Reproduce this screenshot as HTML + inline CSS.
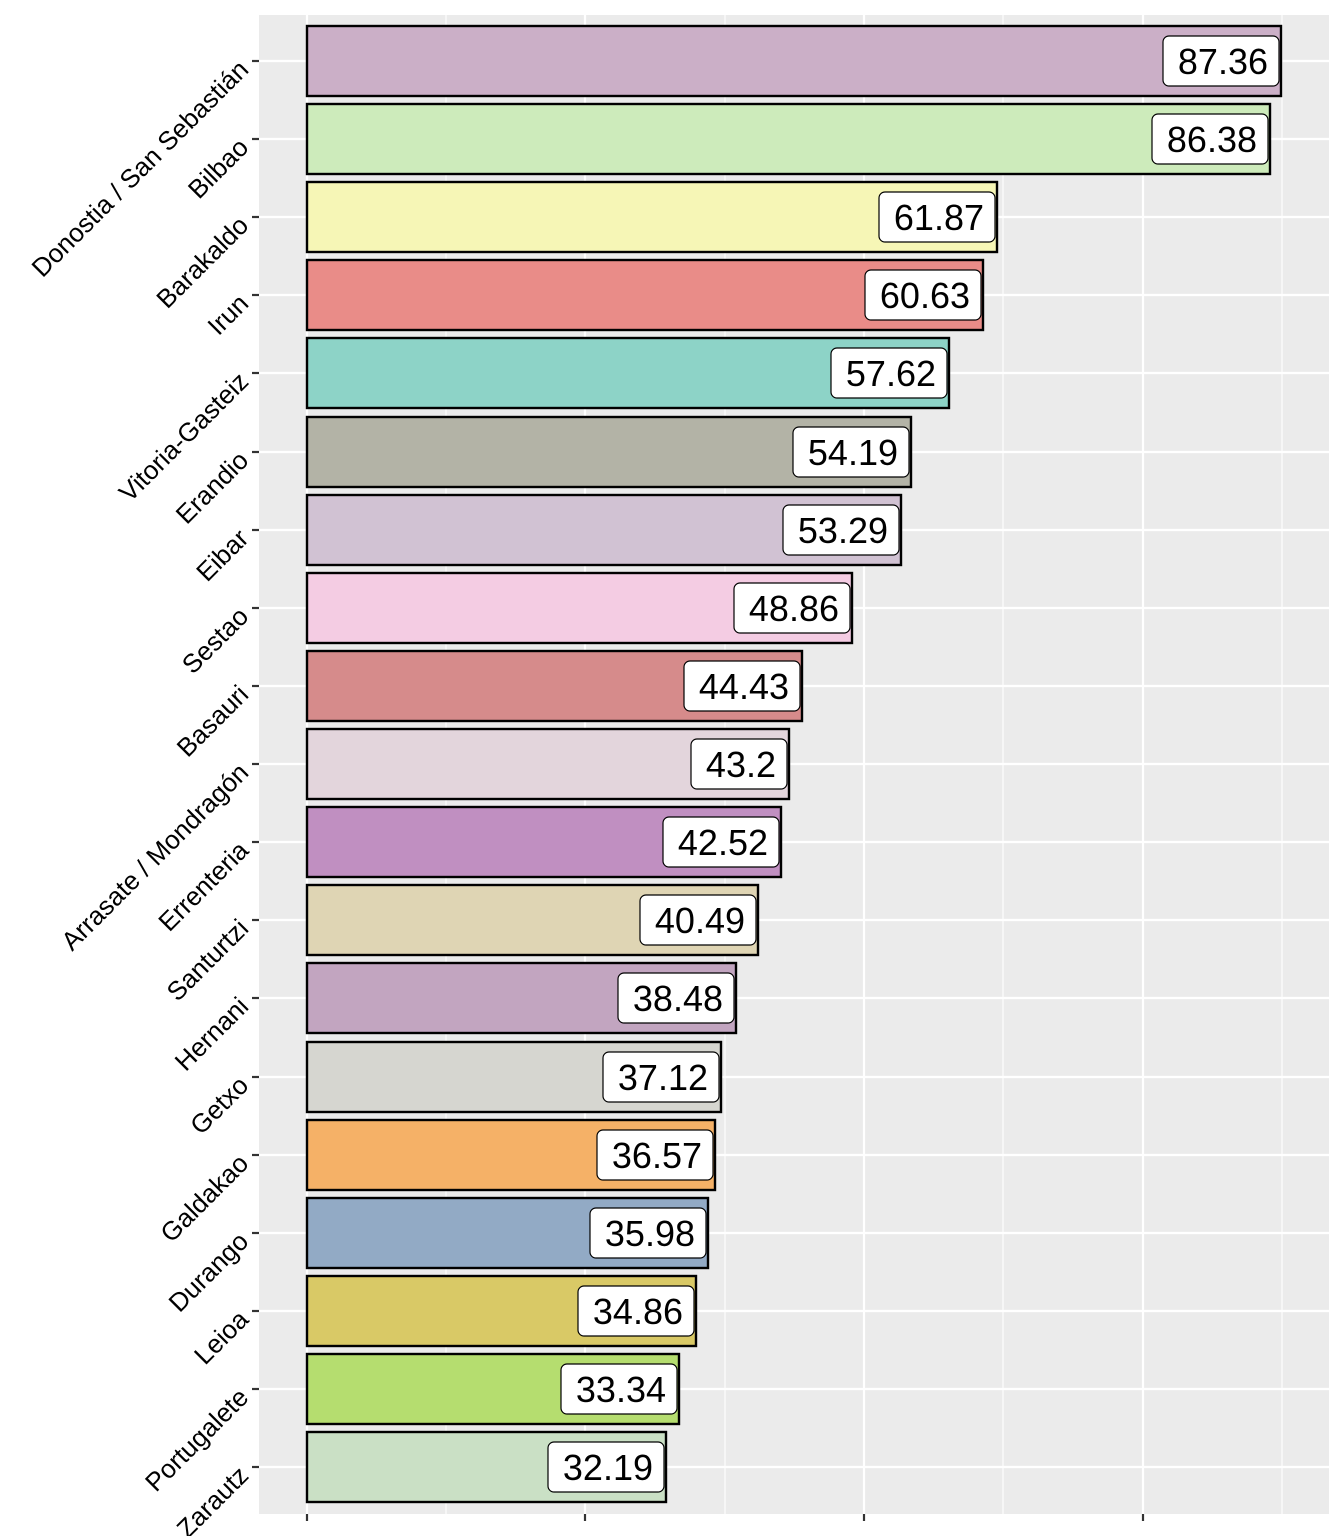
<!DOCTYPE html>
<html><head><meta charset="utf-8"><style>html,body{margin:0;padding:0;background:#fff}svg{display:block}</style></head>
<body>
<svg width="1344" height="1536" viewBox="0 0 1344 1536" xmlns="http://www.w3.org/2000/svg" font-family="Liberation Sans, Arial, sans-serif">
<rect x="259" y="15" width="1070" height="1499" fill="#EBEBEB"/>
<g stroke="#fff" stroke-width="1.1">
<line x1="446" y1="15" x2="446" y2="1514"/><line x1="725" y1="15" x2="725" y2="1514"/><line x1="1003" y1="15" x2="1003" y2="1514"/><line x1="1282" y1="15" x2="1282" y2="1514"/>
</g>
<g stroke="#fff" stroke-width="2.2">
<line x1="307" y1="15" x2="307" y2="1514"/><line x1="585" y1="15" x2="585" y2="1514"/><line x1="864" y1="15" x2="864" y2="1514"/><line x1="1143" y1="15" x2="1143" y2="1514"/>
<line x1="259" y1="61" x2="1329" y2="61"/><line x1="259" y1="139" x2="1329" y2="139"/><line x1="259" y1="217" x2="1329" y2="217"/><line x1="259" y1="295" x2="1329" y2="295"/><line x1="259" y1="373" x2="1329" y2="373"/><line x1="259" y1="452" x2="1329" y2="452"/><line x1="259" y1="530" x2="1329" y2="530"/><line x1="259" y1="608" x2="1329" y2="608"/><line x1="259" y1="686" x2="1329" y2="686"/><line x1="259" y1="764" x2="1329" y2="764"/><line x1="259" y1="842" x2="1329" y2="842"/><line x1="259" y1="920" x2="1329" y2="920"/><line x1="259" y1="998" x2="1329" y2="998"/><line x1="259" y1="1077" x2="1329" y2="1077"/><line x1="259" y1="1155" x2="1329" y2="1155"/><line x1="259" y1="1233" x2="1329" y2="1233"/><line x1="259" y1="1311" x2="1329" y2="1311"/><line x1="259" y1="1389" x2="1329" y2="1389"/><line x1="259" y1="1467" x2="1329" y2="1467"/>
</g>
<g stroke="#333" stroke-width="2.2">
<line x1="307" y1="1514" x2="307" y2="1521"/><line x1="585" y1="1514" x2="585" y2="1521"/><line x1="864" y1="1514" x2="864" y2="1521"/><line x1="1143" y1="1514" x2="1143" y2="1521"/>
<line x1="252" y1="61" x2="259" y2="61"/><line x1="252" y1="139" x2="259" y2="139"/><line x1="252" y1="217" x2="259" y2="217"/><line x1="252" y1="295" x2="259" y2="295"/><line x1="252" y1="373" x2="259" y2="373"/><line x1="252" y1="452" x2="259" y2="452"/><line x1="252" y1="530" x2="259" y2="530"/><line x1="252" y1="608" x2="259" y2="608"/><line x1="252" y1="686" x2="259" y2="686"/><line x1="252" y1="764" x2="259" y2="764"/><line x1="252" y1="842" x2="259" y2="842"/><line x1="252" y1="920" x2="259" y2="920"/><line x1="252" y1="998" x2="259" y2="998"/><line x1="252" y1="1077" x2="259" y2="1077"/><line x1="252" y1="1155" x2="259" y2="1155"/><line x1="252" y1="1233" x2="259" y2="1233"/><line x1="252" y1="1311" x2="259" y2="1311"/><line x1="252" y1="1389" x2="259" y2="1389"/><line x1="252" y1="1467" x2="259" y2="1467"/>
</g>
<g stroke="#000" stroke-width="2.4">
<rect x="307" y="26" width="974" height="70" fill="#CBAFC7"/>
<rect x="307" y="104" width="963" height="70" fill="#CDEBBB"/>
<rect x="307" y="182" width="690" height="70" fill="#F6F6B6"/>
<rect x="307" y="260" width="676" height="70" fill="#E98C88"/>
<rect x="307" y="338" width="642" height="70" fill="#8DD3C7"/>
<rect x="307" y="417" width="604" height="70" fill="#B3B3A6"/>
<rect x="307" y="495" width="594" height="70" fill="#D1C2D3"/>
<rect x="307" y="573" width="545" height="70" fill="#F4CCE3"/>
<rect x="307" y="651" width="495" height="70" fill="#D68B8B"/>
<rect x="307" y="729" width="482" height="70" fill="#E3D5DC"/>
<rect x="307" y="807" width="474" height="70" fill="#C08FC1"/>
<rect x="307" y="885" width="451" height="70" fill="#DFD5B4"/>
<rect x="307" y="963" width="429" height="70" fill="#C2A5C0"/>
<rect x="307" y="1042" width="414" height="70" fill="#D6D6D0"/>
<rect x="307" y="1120" width="408" height="70" fill="#F5B167"/>
<rect x="307" y="1198" width="401" height="70" fill="#92AAC5"/>
<rect x="307" y="1276" width="389" height="70" fill="#D9C966"/>
<rect x="307" y="1354" width="372" height="70" fill="#B5DD6F"/>
<rect x="307" y="1432" width="359" height="70" fill="#CAE0C5"/>
</g>
<g fill="#fff" stroke="#000" stroke-width="1.2">
<rect x="1163" y="36" width="116" height="50" rx="6"/>
<rect x="1152" y="114" width="116" height="50" rx="6"/>
<rect x="879" y="192" width="116" height="50" rx="6"/>
<rect x="865" y="270" width="116" height="50" rx="6"/>
<rect x="831" y="348" width="116" height="50" rx="6"/>
<rect x="793" y="427" width="116" height="50" rx="6"/>
<rect x="783" y="505" width="116" height="50" rx="6"/>
<rect x="734" y="583" width="116" height="50" rx="6"/>
<rect x="684" y="661" width="116" height="50" rx="6"/>
<rect x="691" y="739" width="96" height="50" rx="6"/>
<rect x="663" y="817" width="116" height="50" rx="6"/>
<rect x="640" y="895" width="116" height="50" rx="6"/>
<rect x="618" y="973" width="116" height="50" rx="6"/>
<rect x="603" y="1052" width="116" height="50" rx="6"/>
<rect x="597" y="1130" width="116" height="50" rx="6"/>
<rect x="590" y="1208" width="116" height="50" rx="6"/>
<rect x="578" y="1286" width="116" height="50" rx="6"/>
<rect x="561" y="1364" width="116" height="50" rx="6"/>
<rect x="548" y="1442" width="116" height="50" rx="6"/>
</g>
<g font-size="36" text-anchor="end" fill="#000">
<text x="1268" y="74">87.36</text><text x="1257" y="152">86.38</text><text x="984" y="230">61.87</text><text x="970" y="308">60.63</text><text x="936" y="386">57.62</text><text x="898" y="465">54.19</text><text x="888" y="543">53.29</text><text x="839" y="621">48.86</text><text x="789" y="699">44.43</text><text x="776" y="777">43.2</text><text x="768" y="855">42.52</text><text x="745" y="933">40.49</text><text x="723" y="1011">38.48</text><text x="708" y="1090">37.12</text><text x="702" y="1168">36.57</text><text x="695" y="1246">35.98</text><text x="683" y="1324">34.86</text><text x="666" y="1402">33.34</text><text x="653" y="1480">32.19</text>
</g>
<g font-size="26" text-anchor="end" fill="#000">
<text transform="translate(250,71) rotate(-45)">Donostia / San Sebastián</text>
<text transform="translate(250,149) rotate(-45)">Bilbao</text>
<text transform="translate(250,227) rotate(-45)">Barakaldo</text>
<text transform="translate(250,305) rotate(-45)">Irun</text>
<text transform="translate(250,383) rotate(-45)">Vitoria-Gasteiz</text>
<text transform="translate(250,462) rotate(-45)">Erandio</text>
<text transform="translate(250,540) rotate(-45)">Eibar</text>
<text transform="translate(250,618) rotate(-45)">Sestao</text>
<text transform="translate(250,696) rotate(-45)">Basauri</text>
<text transform="translate(250,774) rotate(-45)">Arrasate / Mondragón</text>
<text transform="translate(250,852) rotate(-45)">Errenteria</text>
<text transform="translate(250,930) rotate(-45)">Santurtzi</text>
<text transform="translate(250,1008) rotate(-45)">Hernani</text>
<text transform="translate(250,1087) rotate(-45)">Getxo</text>
<text transform="translate(250,1165) rotate(-45)">Galdakao</text>
<text transform="translate(250,1243) rotate(-45)">Durango</text>
<text transform="translate(250,1321) rotate(-45)">Leioa</text>
<text transform="translate(250,1399) rotate(-45)">Portugalete</text>
<text transform="translate(250,1477) rotate(-45)">Zarautz</text>
</g>
</svg>
</body></html>
